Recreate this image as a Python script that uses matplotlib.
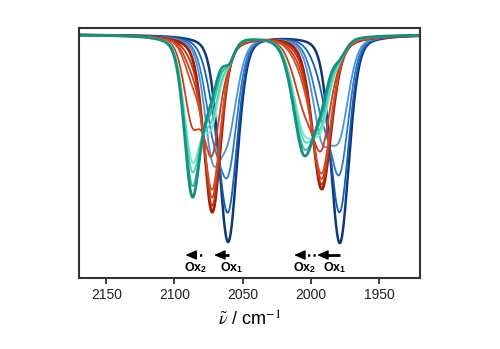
import numpy as np
import matplotlib
matplotlib.use("Agg")
import matplotlib.pyplot as plt

plt.rcParams['font.family'] = ['Liberation Sans', 'DejaVu Sans']
plt.rcParams['mathtext.fontset'] = 'stix'

# Species bands: centre (cm-1), depth (a.u.), half width (cm-1), Lorentzian fraction
species_N = [(2060.7, 2.07, 8.0, 0.3), (1978.8, 2.08, 8.0, 0.3)]
species_Ox1 = [(2072.3, 1.77, 7.5, 0.45), (1992.0, 1.54, 8.5, 0.45)]
species_Ox2 = [(2087.0, 1.55, 7.0, 0.35), (2074.0, 0.50, 7.0, 0.3), (2060.0, 0.20, 5.0, 0.3),
               (2005.0, 1.15, 9.5, 0.35), (1992.0, 0.40, 7.0, 0.3), (1979.0, 0.15, 6.0, 0.3)]

# Composition of each spectrum (fraction N, Ox1, Ox2)
frac_N = [1.00, 0.82, 0.60, 0.40, 0.00, 0.00, 0.00, 0.00, 0.00, 0.00, 0.00, 0.00, 0.00]
frac_Ox1 = [0.00, 0.18, 0.40, 0.60, 1.00, 0.94, 0.87, 0.80, 0.50, 0.25, 0.18, 0.08, 0.00]
frac_Ox2 = [0.00, 0.00, 0.00, 0.00, 0.00, 0.06, 0.13, 0.20, 0.50, 0.75, 0.82, 0.92, 1.00]
colors = ['#0b3a7a', '#1a5cae', '#2f78c8', '#4c95dc',
          '#a81c04', '#c0300f', '#c8401c', '#d0502a', '#c8401c',
          '#7ee6cf', '#4fd6b8', '#2bbfa2', '#15907f']
widths = [1.8, 1.3, 1.3, 1.3, 2.0, 1.3, 1.3, 1.3, 1.3, 1.3, 1.3, 1.3, 2.0]

xticks = [2150, 2100, 2050, 2000, 1950]

# arrows: (tip, tail, dotted?) in cm-1 ; labels: (x, text)
arrows = [(2092.0, 2079.5, True), (2071.0, 2060.1, False),
          (2012.3, 1996.4, True), (1995.4, 1978.5, False)]
labels = [(2084.8, r'Ox$_\mathregular{2}$'), (2058.3, r'Ox$_\mathregular{1}$'),
          (2004.6, r'Ox$_\mathregular{2}$'), (1982.3, r'Ox$_\mathregular{1}$')]

wn = np.linspace(2170, 1920, 2500)


def band(params):
    s = np.zeros_like(wn)
    for c, d, w, eta in params:
        x = (wn - c) / w
        s += d * (eta / (1 + x ** 2) + (1 - eta) * np.exp(-np.log(2) * x ** 2))
    return s


sN, s1, s2 = band(species_N), band(species_Ox1), band(species_Ox2)

fig = plt.figure(figsize=(5.0, 3.49), dpi=100)
ax = fig.add_axes([0.158, 0.2034, 0.682, 0.7164])

for fn, f1, f2, col, lw in zip(frac_N, frac_Ox1, frac_Ox2, colors, widths):
    y = -(fn * sN + f1 * s1 + f2 * s2)
    ax.plot(wn, y, color=col, lw=lw)

ax.set_xlim(2170, 1920)
ax.set_ylim(-2.435, 0.065)
ax.set_yticks([])
ax.set_xticks(xticks)
ax.tick_params(axis='x', direction='out', length=4, width=1.2, labelsize=10, colors='#222222')
for sp in ax.spines.values():
    sp.set_linewidth(1.5)
    sp.set_color('#333333')

ax.set_xlabel(r'$\tilde{\nu}$ / cm$^{-1}$', fontsize=13, labelpad=6)

ya = -2.205
head = 5.5  # head length in cm-1
for tip, tail, dotted in arrows:
    ax.annotate('', xy=(tip, ya), xytext=(tip - head, ya),
                arrowprops=dict(arrowstyle='-|>,head_length=0.55,head_width=0.24',
                                color='black', lw=1.0, shrinkA=0, shrinkB=0,
                                mutation_scale=12))
    if dotted:
        ax.plot([tip - head - 0.6, tail], [ya, ya], color='black', lw=1.8,
                ls=(0, (0.9, 1.3)), solid_capstyle='butt')
    else:
        ax.plot([tip - head + 0.8, tail], [ya, ya], color='black', lw=2.0,
                solid_capstyle='butt')

yl = -2.335
for xl, t in labels:
    ax.text(xl, yl, t, ha='center', va='center', fontsize=9, fontweight='bold')

fig.savefig('out.png', dpi=100)
